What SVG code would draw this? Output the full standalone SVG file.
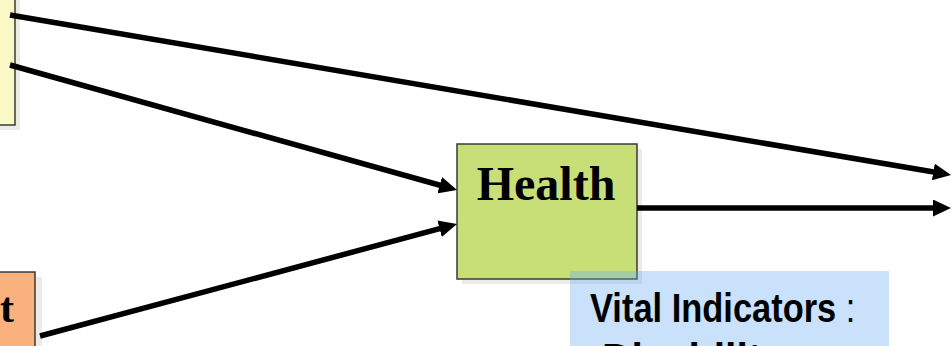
<svg xmlns="http://www.w3.org/2000/svg" width="951" height="346" viewBox="0 0 951 346">
<defs>
<style>
.shadow{fill:#ecebe6}
.box{stroke:#3a3a3a;stroke-width:1.5}
.conn{stroke:#000;stroke-width:5.5;fill:none}
.serif{font-family:"Liberation Serif","Times New Roman",serif;font-weight:bold;fill:#000}
.sans{font-family:"Liberation Sans",Arial,sans-serif;fill:#000}
</style>
<marker id="ah" viewBox="0 0 18 17" markerWidth="18" markerHeight="17" refX="5" refY="8.5" orient="auto" markerUnits="userSpaceOnUse">
<path d="M0,0 L18,8.5 L0,17 z" fill="#000"/>
</marker>
</defs>
<rect width="951" height="346" fill="#fff"/>
<g id="node-top">
<rect class="shadow" x="-10" y="-5" width="30" height="135"/>
<rect class="box" x="-10" y="-10" width="25" height="135" fill="#faf8c4"/>
</g>
<g id="node-bottom">
<rect class="shadow" x="-10" y="277" width="52" height="80"/>
<rect class="box" x="-10" y="272" width="45" height="85" fill="#f9b17d"/>
<text class="serif" x="14" y="322" font-size="42" text-anchor="end">t</text>
</g>
<g id="node-health">
<rect class="shadow" x="462" y="149" width="180" height="135"/>
<rect class="box" x="457" y="144" width="180" height="135" fill="#c8df78"/>
<text class="serif" x="546" y="200" font-size="48" text-anchor="middle">Health</text>
</g>
<g id="node-vital">
<rect x="570" y="271" width="319" height="90" fill="rgb(100,170,240)" fill-opacity="0.35"/>
<text class="sans" transform="translate(590,322) scale(0.84,1)" font-size="41"><tspan font-weight="bold">Vital Indicators</tspan> :</text>
<text class="sans" x="602" y="372" font-size="41" font-weight="bold">Disability</text>
</g>
<g id="connectors">
<line class="conn" x1="10" y1="15" x2="938.2" y2="172.8" marker-end="url(#ah)"/>
<line class="conn" x1="10" y1="65" x2="444.5" y2="186.5" marker-end="url(#ah)"/>
<line class="conn" x1="40" y1="336" x2="444.4" y2="227.4" marker-end="url(#ah)"/>
<line class="conn" x1="637" y1="208" x2="938" y2="208" marker-end="url(#ah)"/>
</g>
</svg>
